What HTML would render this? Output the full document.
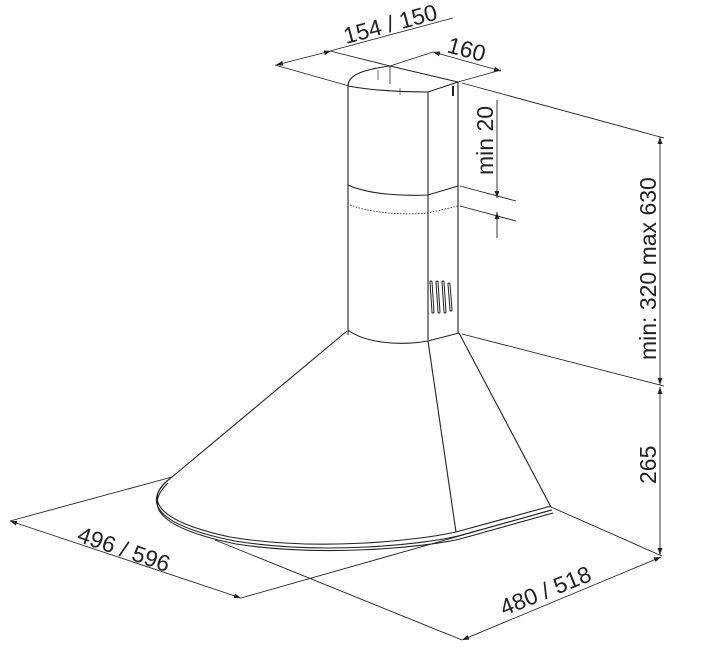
<!DOCTYPE html>
<html><head><style>html,body{margin:0;padding:0;background:#fff}svg{display:block}
text{font-family:"Liberation Sans",Arial,sans-serif;font-size:23px;fill:#222}</style></head><body>
<svg width="708" height="664" viewBox="0 0 708 664" xmlns="http://www.w3.org/2000/svg">
<defs>
<marker id="a" viewBox="0 0 10 10" refX="10" refY="5" markerWidth="9" markerHeight="7" orient="auto-start-reverse" markerUnits="userSpaceOnUse"><path d="M0,1.5 L10,5 L0,8.5 z" fill="#222"/></marker>
</defs>
<g fill="none" stroke="#222" stroke-width="1.1">
<path d="M348,86 C348,76 360,70 390,66 L458,82"/>
<path d="M348,86 C370,90 400,92 428,92 L458,82"/>
<line x1="390" y1="66" x2="390" y2="84" stroke-width="0.8"/>
<path d="M378,70 L378,80 M400,88 L400,95" stroke-width="0.6"/>
<line x1="348" y1="86" x2="348" y2="335"/>
<line x1="428" y1="92" x2="428" y2="340"/>
<line x1="458" y1="82" x2="458" y2="333"/>
<line x1="453" y1="86" x2="453" y2="96" stroke-width="2"/>
<path d="M348,185 C370,195 405,196 428,195 L458,186"/>
<path d="M350,205 C375,214 405,215 428,213 L458,206" stroke-dasharray="1.5,1.5" stroke-width="0.8"/>
<path d="M431,282 l2,30 M437,282 l2,30 M443,282 l2,30 M449,284 l2,26" stroke-width="3" stroke-linecap="round"/>
<path d="M431,282 l2,30 M437,282 l2,30 M443,282 l2,30 M449,284 l2,26" stroke="#fff" stroke-width="1" stroke-linecap="round"/>
<path d="M348,330 C365,343 400,346 428,341 L459,333"/>
<line x1="347" y1="331" x2="172" y2="477"/>
<line x1="459" y1="333" x2="551" y2="507"/>
<line x1="428" y1="341" x2="456" y2="532"/>
<path d="M172,477 C140,500 160,522 230,537 C320,552 420,540 456,532 L551,506"/>
<path d="M167,481 C140,506 165,527 235,541 C320,555 420,545 458,536 L552,510"/>
<path d="M168,483 C140,510 168,530 236,544 C320,557 420,548 460,539 L553,513"/>
<line x1="275" y1="65" x2="349" y2="86" stroke-width="0.9"/>
<line x1="330" y1="51" x2="390" y2="66" stroke-width="0.9"/>
<line x1="330" y1="51" x2="453" y2="18" stroke-width="0.9"/>
<line x1="331" y1="51" x2="276" y2="65" marker-start="url(#a)" marker-end="url(#a)" stroke-width="0.9"/>
<line x1="390" y1="66" x2="433" y2="52" stroke-width="0.9"/>
<line x1="458" y1="82" x2="501" y2="70" stroke-width="0.9"/>
<line x1="433" y1="52" x2="501" y2="71" marker-start="url(#a)" marker-end="url(#a)" stroke-width="0.9"/>
<line x1="462" y1="83" x2="664" y2="138" stroke-width="0.9"/>
<line x1="462" y1="334" x2="664" y2="386" stroke-width="0.9"/>
<line x1="551" y1="507" x2="662" y2="556" stroke-width="0.9"/>
<line x1="660" y1="137" x2="660" y2="385" marker-start="url(#a)" marker-end="url(#a)" stroke-width="0.9"/>
<line x1="660" y1="387" x2="660" y2="555" marker-start="url(#a)" marker-end="url(#a)" stroke-width="0.9"/>
<line x1="460" y1="186" x2="516" y2="201" stroke-width="0.9"/>
<line x1="460" y1="206" x2="516" y2="221" stroke-width="0.9"/>
<line x1="497" y1="100" x2="497" y2="198" marker-end="url(#a)" stroke-width="0.9"/>
<line x1="497" y1="238" x2="497" y2="212" marker-end="url(#a)" stroke-width="0.9"/>
<line x1="10" y1="521" x2="172" y2="477" stroke-width="0.9"/>
<line x1="10" y1="521" x2="241" y2="598" marker-start="url(#a)" marker-end="url(#a)" stroke-width="0.9"/>
<line x1="241" y1="598" x2="551" y2="510" stroke-width="0.9"/>
<line x1="215" y1="540" x2="462" y2="640" stroke-width="0.9"/>
<line x1="462" y1="640" x2="661" y2="557" marker-start="url(#a)" marker-end="url(#a)" stroke-width="0.9"/>
</g>
<text transform="translate(346,44) rotate(-15)">154 / 150</text>
<text transform="translate(446,52) rotate(15)">160</text>
<text transform="translate(656,360) rotate(-90)">min: 320 max 630</text>
<text transform="translate(656,484) rotate(-90)">265</text>
<text transform="translate(493,175) rotate(-90)">min 20</text>
<text transform="translate(76,541) rotate(19)">496 / 596</text>
<text transform="translate(504,616) rotate(-22)">480 / 518</text>
</svg>
</body></html>
